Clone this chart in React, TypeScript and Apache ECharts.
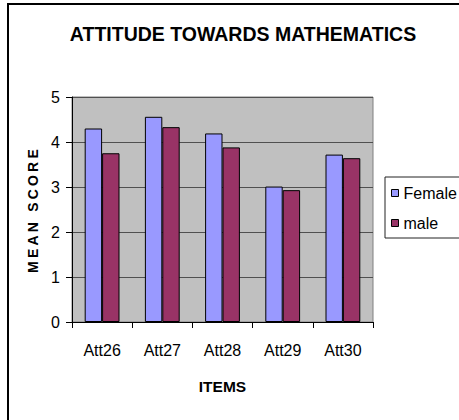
import React, { useEffect, useRef } from "react";
import * as echarts from "echarts";

const chartTitle = "ATTITUDE TOWARDS MATHEMATICS";
const categories = ["Att26", "Att27", "Att28", "Att29", "Att30"];
const femaleValues = [4.3, 4.56, 4.19, 3.01, 3.72];
const maleValues = [3.75, 4.33, 3.88, 2.93, 3.64];
const seriesNames = ["Female", "male"];
const yAxisTitle = "MEAN SCORE";
const xAxisTitle = "ITEMS";

const FONT = "'Liberation Sans', Arial, Helvetica, sans-serif";

export default function App() {
  const ref = useRef<HTMLDivElement>(null);

  useEffect(() => {
    if (!ref.current) return;
    const chart = echarts.init(ref.current, undefined, { renderer: "svg" });
    chart.setOption({
      animation: false,
      backgroundColor: "#ffffff",
      title: {
        text: chartTitle,
        left: 238,
        top: 19,
        textAlign: "center",
        textStyle: {
          fontFamily: FONT,
          fontWeight: "bold",
          fontSize: 19.5,
          color: "#000",
        },
      },
      graphic: [
        {
          type: "rect",
          shape: { x: 8, y: 4, width: 700, height: 700 },
          style: { fill: "none", stroke: "#000", lineWidth: 2 },
          silent: true,
        },
      ],
      legend: {
        orient: "vertical",
        left: 385,
        top: 177,
        padding: [8, 6, 7, 6],
        itemGap: 14,
        itemWidth: 7,
        itemHeight: 7,
        icon: "rect",
        borderColor: "#222",
        borderWidth: 1,
        backgroundColor: "#fff",
        itemStyle: { borderColor: "#000", borderWidth: 1 },
        textStyle: { fontFamily: FONT, fontSize: 16, color: "#000" },
        data: seriesNames,
      },
      grid: {
        left: 72,
        right: 86,
        top: 97,
        bottom: 98,
        show: true,
        backgroundColor: "#C0C0C0",
        borderColor: "#808080",
        borderWidth: 1,
      },
      xAxis: {
        type: "category",
        data: categories,
        name: xAxisTitle,
        nameLocation: "middle",
        nameGap: 64,
        nameTextStyle: {
          fontFamily: FONT,
          fontWeight: "bold",
          fontSize: 15.5,
          color: "#000",
          verticalAlign: "middle",
        },
        axisLine: { show: true, lineStyle: { color: "#000", width: 1 } },
        axisTick: { show: true, length: 6, lineStyle: { color: "#000" } },
        axisLabel: {
          fontFamily: FONT,
          fontSize: 16,
          color: "#000",
          margin: 20,
        },
      },
      yAxis: {
        type: "value",
        min: 0,
        max: 5,
        interval: 1,
        name: yAxisTitle,
        nameLocation: "middle",
        nameRotate: 90,
        nameGap: 38,
        nameTextStyle: {
          fontFamily: FONT,
          fontWeight: "bold",
          fontSize: 14,
          color: "#000",
          verticalAlign: "middle",
        },
        axisLine: { show: true, lineStyle: { color: "#000", width: 1 } },
        axisTick: { show: true, length: 6, lineStyle: { color: "#000" } },
        axisLabel: {
          fontFamily: FONT,
          fontSize: 16,
          color: "#000",
          margin: 12,
        },
        splitLine: { show: true, lineStyle: { color: "#505050", width: 1 } },
      },
      series: [
        {
          name: seriesNames[0],
          type: "bar",
          data: femaleValues,
          barWidth: 17.4,
          barGap: "0%",
          itemStyle: { color: "#9999FF", borderColor: "#000", borderWidth: 1 },
        },
        {
          name: seriesNames[1],
          type: "bar",
          data: maleValues,
          barWidth: 17.4,
          barGap: "0%",
          itemStyle: { color: "#993366", borderColor: "#000", borderWidth: 1 },
        },
      ],
    });

    const applySpacing = () => {
      const texts = ref.current?.querySelectorAll("text") || [];
      texts.forEach((t) => {
        if (t.textContent === yAxisTitle) {
          (t as SVGTextElement).style.letterSpacing = "3.2px";
        }
      });
    };
    applySpacing();
    chart.on("finished", applySpacing);

    return () => {
      chart.dispose();
    };
  }, []);

  return (
    <div
      ref={ref}
      style={{ position: "absolute", left: 0, top: 0, width: 459, height: 420 }}
    />
  );
}
